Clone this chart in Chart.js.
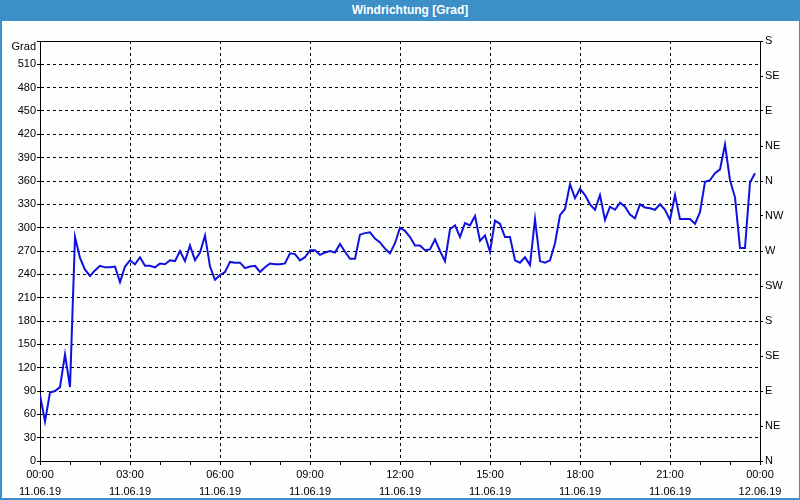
<!DOCTYPE html>
<html>
<head>
<meta charset="utf-8">
<script src="https://cdn.jsdelivr.net/npm/chart.js@4/dist/chart.umd.min.js"></script>
<style>
  html, body { margin: 0; padding: 0; background: #fdfefe; }
  #wrap { position: relative; width: 800px; height: 500px; overflow: hidden; background: #fdfefe; }
  #titlebar { position: absolute; left: 0; top: 0; width: 800px; height: 21px; background: #3c8fc7;
    color: #fff; font: bold 12px "Liberation Sans", Arial, sans-serif; line-height: 21px;
    text-align: center; box-sizing: border-box; padding-left: 20px; z-index: 2; }
  #frame { position: absolute; left: 0; top: 0; width: 800px; height: 500px; box-sizing: border-box;
    border-left: 2px solid #3c8fc7; border-right: 1px solid #3c8fc7; border-bottom: 2px solid #3c8fc7;
    pointer-events: none; z-index: 3; }
  canvas { position: absolute; left: 0; top: 0; }
</style>
</head>
<body>
<div id="wrap">
  <div id="titlebar">Windrichtung [Grad]</div>
  <canvas id="c" width="800" height="500"></canvas>
  <div id="frame"></div>
</div>
<script>
// ---- Data (10-minute samples starting 11.06.19 00:00) ----
const intervalMinutes = 10;
const windDirection = [
  85, 51, 88, 90, 95, 137, 95, 288, 261, 246,
  238, 245, 251, 249, 249, 250, 230, 250, 258, 253,
  262, 251, 251, 249, 254, 253, 258, 257, 270, 257,
  277, 258, 268, 290, 250, 233, 239, 243, 256, 255,
  255, 248, 250, 251, 243, 249, 254, 253, 253, 254,
  267, 266, 258, 262, 271, 271, 265, 268, 270, 268,
  279, 269, 260, 260, 291, 293, 294, 286, 281, 273,
  267, 280, 300, 296, 288, 277, 277, 271, 272, 285,
  270, 257, 298, 303, 288, 306, 303, 315, 283, 290,
  269, 309, 305, 288, 288, 258, 255, 262, 252, 311,
  257, 255, 258, 280, 316, 324, 356, 338, 350, 342,
  330, 323, 342, 310, 327, 323, 332, 327, 317, 312,
  330, 326, 325, 323, 330, 323, 310, 342, 311, 311,
  311, 305, 320, 359, 361, 370, 375, 407, 361, 339,
  274, 274, 358, 370
];
const xTickTimes = ['00:00', '03:00', '06:00', '09:00', '12:00', '15:00', '18:00', '21:00', '00:00'];
const xTickDates = ['11.06.19', '11.06.19', '11.06.19', '11.06.19', '11.06.19', '11.06.19', '11.06.19', '11.06.19', '12.06.19'];
const yUnitLabel = 'Grad';
const compassLabels = ['N', 'NE', 'E', 'SE', 'S', 'SW', 'W', 'NW', 'N', 'NE', 'E', 'SE', 'S'];

const points = windDirection.map((v, i) => ({ x: i * intervalMinutes, y: v }));

Chart.defaults.font.family = '"Liberation Sans", Arial, sans-serif';
Chart.defaults.font.size = 11;
Chart.defaults.color = '#000';

const topBorder = {
  id: 'topBorder',
  afterDraw(chart) {
    const a = chart.chartArea, ctx = chart.ctx;
    ctx.save();
    ctx.strokeStyle = '#000';
    ctx.lineWidth = 1;
    ctx.beginPath();
    ctx.moveTo(a.left, Math.round(a.top) + 0.5);
    ctx.lineTo(a.right, Math.round(a.top) + 0.5);
    ctx.stroke();
    ctx.restore();
  }
};

new Chart(document.getElementById('c'), {
  type: 'line',
  data: {
    datasets: [{
      data: points,
      borderColor: '#1010e0',
      borderWidth: 2,
      pointRadius: 0,
      tension: 0,
      fill: false
    }]
  },
  options: {
    responsive: false,
    animation: false,
    events: [],
    layout: { padding: { top: 41, left: 0, right: 0, bottom: 0 } },
    plugins: { legend: { display: false }, tooltip: { enabled: false }, title: { display: false } },
    scales: {
      x: {
        type: 'linear',
        position: 'bottom',
        min: 0,
        max: 1440,
        afterFit: s => { s.height = 39; },
        ticks: {
          stepSize: 60,
          autoSkip: false,
          maxRotation: 0,
          padding: 2,
          font: { size: 11, lineHeight: 1.5 },
          callback: v => (v % 180 === 0) ? [xTickTimes[v / 180], xTickDates[v / 180]] : ''
        },
        grid: {
          color: ctx => (ctx.tick && ctx.tick.value % 180 === 0) ? '#000' : 'rgba(0,0,0,0)',
          tickColor: '#000',
          tickLength: 4,
          lineWidth: 1
        },
        border: { display: true, color: '#000', width: 1, dash: [3, 3] }
      },
      y: {
        position: 'left',
        min: 0,
        max: 540,
        afterFit: s => { s.width = 40; },
        ticks: {
          stepSize: 30,
          autoSkip: false,
          padding: 1,
          font: { size: 11, lineHeight: 1.0 },
          callback: v => v === 540 ? ['', yUnitLabel] : String(v)
        },
        grid: { color: '#000', tickColor: '#000', tickLength: 3, lineWidth: 1 },
        border: { display: true, color: '#000', width: 1, dash: [3, 3] }
      },
      y2: {
        position: 'right',
        min: 0,
        max: 540,
        afterFit: s => { s.width = 40; },
        ticks: {
          stepSize: 45,
          autoSkip: false,
          padding: 2,
          font: { size: 11 },
          callback: (v) => compassLabels[Math.round(v / 45)]
        },
        grid: { drawOnChartArea: false, color: '#000', tickColor: '#000', tickLength: 3 },
        border: { display: true, color: '#000', width: 1 }
      }
    }
  },
  plugins: [topBorder]
});
</script>
</body>
</html>
